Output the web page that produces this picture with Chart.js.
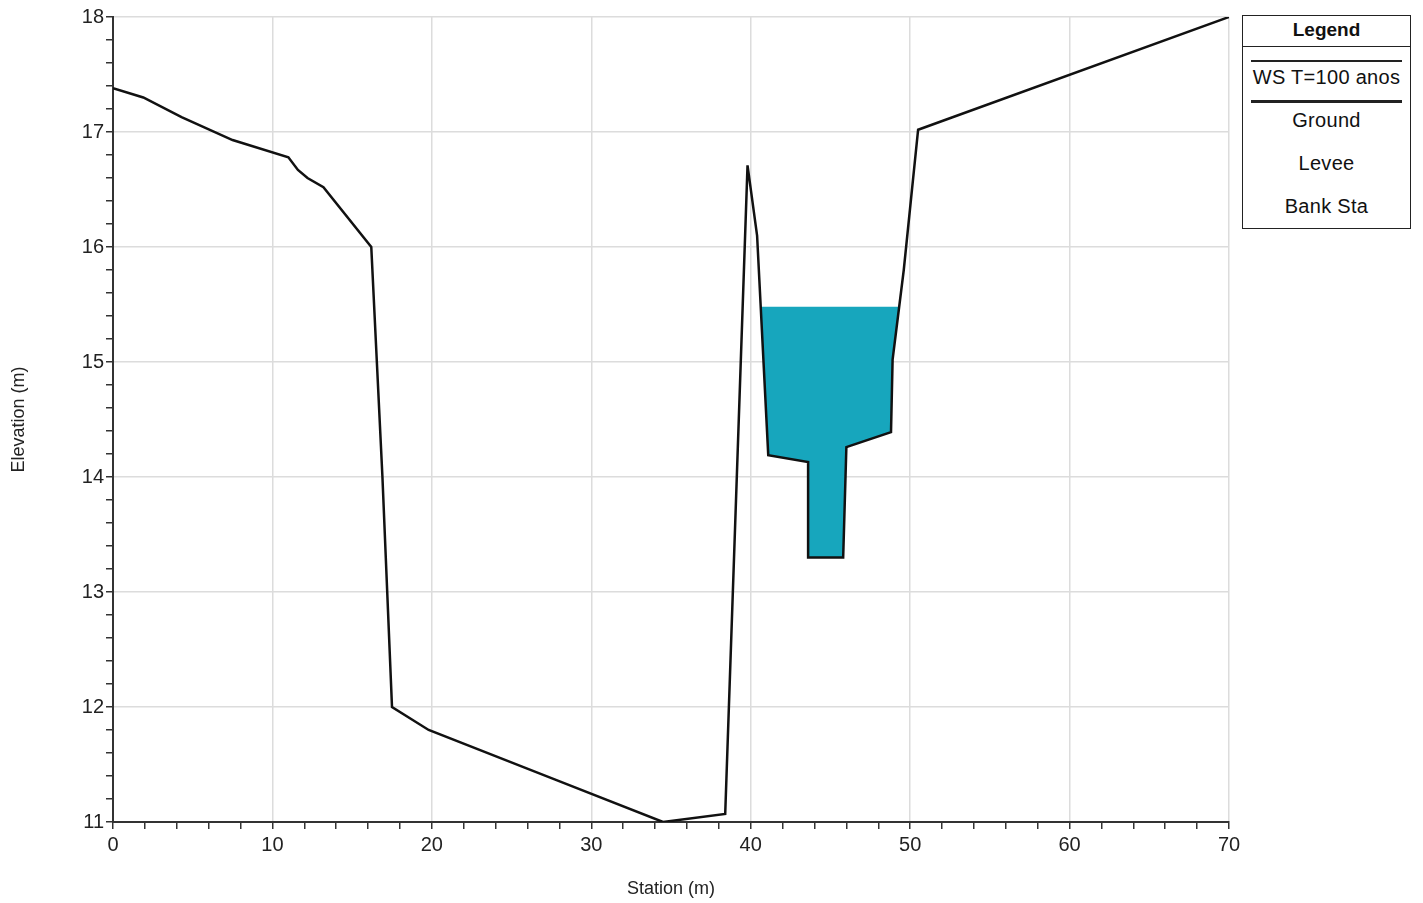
<!DOCTYPE html>
<html>
<head>
<meta charset="utf-8">
<script src="https://cdn.jsdelivr.net/npm/chart.js@4.4.1/dist/chart.umd.min.js"></script>
<style>
  html, body { margin: 0; padding: 0; background: #fff; }
  #wrap { position: relative; width: 1423px; height: 903px; }
  #legend {
    position: absolute; left: 1242px; top: 15px; width: 169px; height: 214px;
    border: 1.5px solid #222; box-sizing: border-box; background: #fff;
    font-family: "Liberation Sans", Arial, sans-serif; color: #111;
  }
  #legend .hdr {
    height: 30px; line-height: 28px; text-align: center; font-weight: bold; font-size: 19px;
    border-bottom: 1.5px solid #222;
  }
  #legend .item { position: absolute; left: 0; right: 0; text-align: center; font-size: 20px; letter-spacing: 0.3px; }
  #legend .sample { position: absolute; left: 8px; right: 8px; background: #222; }
</style>
</head>
<body>
<div id="wrap">
  <canvas id="xs" width="1423" height="903"></canvas>
  <div id="legend"><div class="hdr">Legend</div></div>
</div>
<script>
// ground profile (station m, elevation m)
const groundStation = [0, 1.9, 4.3, 7.5, 11.0, 11.6, 12.2, 13.2, 16.2, 16.55, 16.9, 17.2, 17.5,
  19.8, 27.7, 34.5, 38.4, 39.8, 40.4, 41.1, 43.6, 43.6, 45.8, 46.0, 48.8, 48.9, 49.6, 50.5, 70];
const groundElev = [17.38, 17.30, 17.13, 16.93, 16.78, 16.67, 16.60, 16.52, 16.0, 15.0, 14.0, 13.0, 12.0,
  11.8, 11.37, 11.0, 11.07, 16.71, 16.1, 14.19, 14.13, 13.30, 13.30, 14.26, 14.39, 15.02, 15.8, 17.02, 18.0];

// water surface T=100 anos, outlined along the channel bed
const wsStation = [40.65, 41.1, 43.6, 43.6, 45.8, 46.0, 48.8, 48.9, 49.35, 40.65];
const wsElev = [15.48, 14.19, 14.13, 13.30, 13.30, 14.26, 14.39, 15.02, 15.48, 15.48];

const legendLabels = ['WS T=100 anos', 'Ground', 'Levee', 'Bank Sta'];

const toPts = (xs, ys) => xs.map((x, i) => ({ x: x, y: ys[i] }));

// legend box
const lg = document.getElementById('legend');
const itemTop = [50, 93, 136, 179];
const samples = [{ top: 44, h: 1.5 }, { top: 84, h: 3 }];
samples.forEach(s => {
  const d = document.createElement('div');
  d.className = 'sample';
  d.style.top = s.top + 'px';
  d.style.height = s.h + 'px';
  lg.appendChild(d);
});
legendLabels.forEach((t, i) => {
  const d = document.createElement('div');
  d.className = 'item';
  d.style.top = itemTop[i] + 'px';
  d.textContent = t;
  lg.appendChild(d);
});

const near = (v, step) => Math.abs(v / step - Math.round(v / step)) < 1e-6;
const font = { family: '"Liberation Sans", Arial, sans-serif', size: 20 };

new Chart(document.getElementById('xs'), {
  type: 'scatter',
  data: {
    datasets: [
      {
        label: 'WS T=100 anos',
        data: toPts(wsStation, wsElev),
        showLine: true,
        fill: 'shape',
        backgroundColor: '#17a6bd',
        borderColor: 'rgba(0,0,0,0)',
        borderWidth: 0,
        pointRadius: 0,
        order: 2
      },
      {
        label: 'Ground',
        data: toPts(groundStation, groundElev),
        showLine: true,
        borderColor: '#111',
        borderWidth: 2.5,
        pointRadius: 0,
        fill: false,
        order: 1
      }
    ]
  },
  options: {
    responsive: false,
    animation: false,
    layout: { padding: { top: 17, right: 194, bottom: 0, left: 0 } },
    plugins: { legend: { display: false }, tooltip: { enabled: false } },
    scales: {
      x: {
        type: 'linear', min: 0, max: 70,
        afterFit: s => { s.height = 81; },
        ticks: {
          stepSize: 2, autoSkip: false, maxRotation: 0, color: '#222', font: font, padding: 4,
          callback: v => near(v, 10) ? v : ''
        },
        grid: {
          color: c => near(c.tick.value, 10) ? '#dcdcdc' : 'rgba(0,0,0,0)',
          tickColor: '#333', tickLength: 7, lineWidth: 1.5, tickWidth: 1.5
        },
        border: { color: '#333', width: 2 },
        title: { display: true, text: 'Station (m)', color: '#222',
          font: { family: font.family, size: 18 }, padding: { top: 4, bottom: 3 } }
      },
      y: {
        type: 'linear', min: 11, max: 18,
        afterFit: s => { s.width = 113; },
        ticks: {
          stepSize: 0.2, autoSkip: false, color: '#222', font: font, padding: 2,
          callback: v => near(v, 1) ? Math.round(v) : ''
        },
        grid: {
          color: c => near(c.tick.value, 1) ? '#dcdcdc' : 'rgba(0,0,0,0)',
          tickColor: '#333', tickLength: 7, lineWidth: 1.5, tickWidth: 1.5
        },
        border: { color: '#333', width: 2 },
        title: { display: true, text: 'Elevation (m)', color: '#222',
          font: { family: font.family, size: 18 }, padding: { top: 8, bottom: 4 } }
      }
    }
  }
});
</script>
</body>
</html>
